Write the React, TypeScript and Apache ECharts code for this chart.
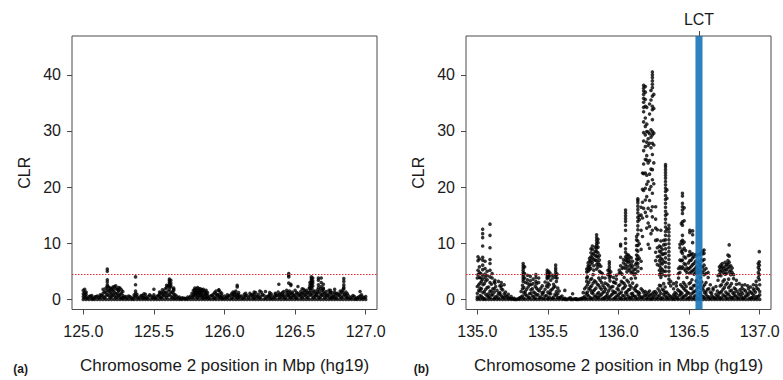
import React, { useEffect, useRef } from "react";
import * as echarts from "echarts";

type Col = [number, number[]];

// ---------- axis / label values ----------
const xTicksA = [125.0, 125.5, 126.0, 126.5, 127.0];
const xTicksB = [135.0, 135.5, 136.0, 136.5, 137.0];
const yTicks = [0, 10, 20, 30, 40];
const xRangeA = [124.92, 127.08];
const xRangeB = [134.92, 137.08];
const yRange = [-1.8, 46.9];
const threshold = 4.5;
const lctStart = 136.545;
const lctEnd = 136.595;
const lctMid = 136.57;
const xTitle = "Chromosome 2 position in Mbp (hg19)";
const yTitle = "CLR";

// ---------- panel (a): chr2 125-127 Mb, CLR columns [position, values] ----------
const aBase: Col[] = [
  [125.0, [0, 0.5, 1.0, 1.6]], [125.02, [0, 0.4, 0.9, 1.3]], [125.04, [0, 0.5]], [125.06, [0, 0.3, 0.7]],
  [125.08, [0, 0.4]], [125.1, [0, 0.6]], [125.12, [0, 0.4, 0.8]], [125.14, [0, 0.5, 1.1, 1.8]],
  [125.16, [0, 0.6, 1.2, 2.0]], [125.18, [0, 0.7, 1.5, 2.2]], [125.2, [0, 0.5, 1.0, 1.9]], [125.22, [0, 0.6, 1.3, 2.3]],
  [125.24, [0, 0.5, 1.1, 1.8]], [125.26, [0, 0.4, 0.9, 2.0]], [125.28, [0, 0.3, 0.7, 1.4]], [125.3, [0, 0.5]],
  [125.32, [0, 0.6]], [125.34, [0, 0.3]], [125.36, [0, 0.4, 0.8]], [125.38, [0, 0.5, 0.9]],
  [125.4, [0, 0.4]], [125.42, [0, 0.3, 0.7]], [125.44, [0, 0.4, 0.9]], [125.46, [0, 0.5]],
  [125.48, [0, 0.6]], [125.5, [0, 0.4, 0.8]], [125.52, [0, 0.5]], [125.54, [0, 0.5, 0.9, 1.3]],
  [125.56, [0, 0.5, 1.0, 1.7]], [125.58, [0, 0.6, 1.2, 1.9]], [125.6, [0, 0.7, 1.5, 2.4]], [125.62, [0, 0.6, 1.3, 2.2]],
  [125.64, [0, 0.5, 1.0, 1.6]], [125.66, [0, 0.6]], [125.68, [0, 0.4]], [125.7, [0, 0.3]],
  [125.72, [0, 0.2]], [125.74, [0, 0.4]], [125.76, [0, 0.6]], [125.78, [0, 0.5, 0.9, 1.6]],
  [125.8, [0, 0.5, 1.0, 1.4, 1.9]], [125.82, [0, 0.6, 1.1, 1.5, 1.9]], [125.84, [0, 0.4, 0.8, 1.3, 1.7]], [125.86, [0, 0.5, 1.0, 1.5]],
  [125.88, [0, 0.4, 0.7, 1.2]], [125.9, [0, 0.6]], [125.92, [0, 0.4, 0.9]], [125.94, [0, 0.5, 1.0, 1.5]],
  [125.96, [0, 0.4, 0.8, 1.6]], [125.98, [0, 0.3, 0.7, 1.1]], [126.0, [0, 0.6]], [126.02, [0, 0.4, 0.8]],
  [126.04, [0, 0.7]], [126.06, [0, 0.5, 0.9, 1.3]], [126.08, [0, 0.5, 1.0, 1.5]], [126.1, [0, 0.4, 0.8, 1.2]],
  [126.12, [0, 0.6]], [126.14, [0, 0.4, 0.9]], [126.16, [0, 0.7]], [126.18, [0, 0.6, 1.1]],
  [126.2, [0, 0.4, 0.8]], [126.22, [0, 0.5, 1.2]], [126.24, [0, 0.4, 0.9]], [126.26, [0, 0.6, 1.3]],
  [126.28, [0, 0.7]], [126.3, [0, 0.5]], [126.32, [0, 0.4, 0.8, 1.2]], [126.34, [0, 0.6]],
  [126.36, [0, 0.5, 0.9, 1.1]], [126.38, [0, 0.7, 1.3]], [126.4, [0, 0.5, 1.0]], [126.42, [0, 0.4, 0.8, 1.4]],
  [126.44, [0, 0.6, 1.1, 1.6]], [126.46, [0, 0.5, 0.9, 1.5]], [126.48, [0, 0.5, 1.0, 1.3]], [126.5, [0, 0.4, 0.8, 1.6]],
  [126.52, [0, 0.6, 1.1]], [126.54, [0, 0.5, 0.9, 1.4]], [126.56, [0, 0.6, 1.2, 1.8]], [126.58, [0, 0.5, 1.0, 1.6]],
  [126.6, [0, 0.7, 1.3, 2.0]], [126.62, [0, 0.6, 1.1, 1.9]], [126.64, [0, 0.5, 0.9, 1.5]], [126.66, [0, 0.6, 1.2, 1.7]],
  [126.68, [0, 0.5, 1.0, 1.9]], [126.7, [0, 0.7, 1.3, 1.8]], [126.72, [0, 0.5, 0.9, 1.4]], [126.74, [0, 0.5, 1.0, 1.6]],
  [126.76, [0, 0.3, 0.7, 1.2]], [126.78, [0, 0.4, 0.9, 1.3]], [126.8, [0, 0.6, 1.1]], [126.82, [0, 0.5, 1.0, 1.5]],
  [126.84, [0, 0.6, 1.2, 1.8]], [126.86, [0, 0.4, 0.8, 1.3]], [126.88, [0, 0.6]], [126.9, [0, 0.4]],
  [126.92, [0, 0.5]], [126.94, [0, 0.3]], [126.96, [0, 0.6]], [126.98, [0, 0.4]], [127.0, [0, 0.5]],
];

const aFill: Col[] = [
  [125.01, [0.3, 0.8]], [125.03, [0.2]], [125.05, [0.6]], [125.07, [0.1]], [125.09, [0.5]], [125.11, [0.3]],
  [125.13, [0.7]], [125.15, [0.3, 1.4]], [125.17, [0.9, 1.7]], [125.19, [0.4, 1.2]], [125.21, [0.8, 1.5]],
  [125.23, [0.3, 1.0]], [125.25, [0.7, 1.6]], [125.27, [0.2, 1.1]], [125.29, [0.4]], [125.31, [0.2]],
  [125.33, [0.5]], [125.35, [0.1]], [125.37, [0.6]], [125.39, [0.2]], [125.41, [0.7]], [125.43, [0.3]],
  [125.45, [0.2]], [125.47, [0.8]], [125.49, [0.3]], [125.51, [0.2]], [125.53, [0.7]], [125.55, [0.3, 1.2]],
  [125.57, [0.8, 1.4]], [125.59, [0.4, 1.1]], [125.61, [0.9, 1.8]], [125.63, [0.3, 1.3]], [125.65, [0.2, 0.8]],
  [125.67, [0.3]], [125.69, [0.1]], [125.71, [0.2]], [125.73, [0.1]], [125.75, [0.3]], [125.77, [0.4, 1.1]],
  [125.79, [0.8, 1.3]], [125.81, [0.3, 0.8]], [125.83, [0.6, 1.2]], [125.85, [0.2, 0.7]], [125.87, [0.3, 0.9]],
  [125.89, [0.2]], [125.91, [0.7]], [125.93, [0.2, 1.2]], [125.95, [0.8]], [125.97, [0.5, 1.3]], [125.99, [0.2]],
  [126.01, [0.3]], [126.03, [0.6]], [126.05, [0.2, 1.0]], [126.07, [0.7, 1.2]], [126.09, [0.3, 0.8]],
  [126.11, [0.5]], [126.13, [0.2]], [126.15, [0.6, 1.1]], [126.17, [0.3]], [126.19, [0.8]], [126.21, [0.2, 0.9]],
  [126.23, [0.6]], [126.25, [0.3]], [126.27, [0.9]], [126.29, [0.2]], [126.31, [0.6]], [126.33, [0.2, 1.0]],
  [126.35, [0.3]], [126.37, [0.7]], [126.39, [0.3, 0.9]], [126.41, [0.7, 1.2]], [126.43, [0.2]],
  [126.45, [0.7, 1.3]], [126.47, [0.3, 1.1]], [126.49, [0.7]], [126.51, [0.2, 1.2]], [126.53, [0.8]],
  [126.55, [0.3, 1.1]], [126.57, [0.8, 1.5]], [126.59, [0.3, 1.2]], [126.61, [0.9, 1.6]], [126.63, [0.3, 1.4]],
  [126.65, [0.7, 1.1]], [126.67, [0.3, 1.4]], [126.69, [0.8, 1.6]], [126.71, [0.3, 1.1]], [126.73, [0.7]],
  [126.75, [0.2, 1.2]], [126.77, [0.5]], [126.79, [0.2, 1.0]], [126.81, [0.8]], [126.83, [0.3, 1.4]],
  [126.85, [0.9]], [126.87, [0.3, 1.0]], [126.89, [0.2]], [126.91, [0.7]], [126.93, [0.1]], [126.95, [0.4]],
  [126.97, [0.2, 0.8]], [126.99, [0.3]],
];

const aPeaks: Col[] = [
  [125.01, [1.8, 1.2]], [125.17, [5.4, 5.0, 3.5, 3.1, 2.6, 2.3]], [125.19, [2.0, 1.6]], [125.21, [2.2, 1.8]],
  [125.23, [1.9, 2.4]], [125.25, [2.1, 1.5]], [125.27, [1.7]], [125.37, [4.0, 2.6, 1.5, 1.1]],
  [125.43, [1.0]], [125.5, [1.8]], [125.59, [2.1, 2.5]], [125.61, [3.6, 3.3, 3.0, 2.7, 2.3]],
  [125.62, [3.4, 2.9, 2.5]], [125.64, [2.0, 1.8]], [125.79, [2.0, 1.7, 1.3]], [125.81, [2.1, 1.6, 1.2]],
  [125.83, [1.9, 1.5, 1.1]], [125.85, [1.8, 1.4]], [125.87, [1.6, 1.1]], [125.96, [1.7]],
  [126.09, [2.5, 2.2]], [126.21, [1.3]], [126.25, [1.5]], [126.29, [1.4]], [126.385, [2.7]],
  [126.455, [4.6, 4.3, 4.0, 2.9]], [126.47, [2.7, 2.5]], [126.52, [2.3]], [126.55, [1.9]],
  [126.605, [3.0, 2.5, 2.0]], [126.615, [4.0, 3.7, 3.4, 3.1, 2.8, 2.5, 2.2]], [126.625, [3.8, 3.3, 2.9, 2.4]],
  [126.665, [3.8, 3.4, 2.6, 2.1]], [126.685, [3.8, 3.0, 2.3]], [126.7, [2.7, 2.0]], [126.75, [1.6]],
  [126.78, [1.8]], [126.845, [3.7, 3.2, 2.6, 2.2, 1.9]], [126.96, [1.4]],
];

// ---------- panel (b): chr2 135-137 Mb ----------
const bBase: Col[] = [
  [135.0, [0, 0.4, 1.1, 2.3, 3.8]], [135.02, [0, 0.7, 1.5, 2.0, 2.9]], [135.04, [0, 0.3, 1.2, 2.6]], [135.06, [0, 0.9, 1.8, 3.3]],
  [135.08, [0, 0.5, 1.0, 2.2]], [135.1, [0, 0.8, 1.4, 2.7]], [135.12, [0, 0.2, 1.3, 1.9, 3.1]], [135.14, [0, 0.6, 1.6]],
  [135.16, [0, 0.9, 1.2, 2.4]], [135.18, [0, 0.4, 1.7]], [135.2, [0, 0.7, 1.3]], [135.22, [0, 0.3, 0.9]],
  [135.24, [0, 0.5]], [135.26, [0, 0.2]], [135.28, [0]], [135.3, [0, 0.3]],
  [135.32, [0, 0.6, 1.9, 2.5]], [135.34, [0, 0.9, 1.4, 3.0]], [135.36, [0, 0.4, 2.2]], [135.38, [0, 1.1, 1.7, 2.6]],
  [135.4, [0, 0.5, 1.3]], [135.42, [0, 0.8, 2.0, 2.8]], [135.44, [0, 0.3, 1.5]], [135.46, [0, 0.9, 1.2, 2.4]],
  [135.48, [0, 0.6, 1.8, 3.1]], [135.5, [0, 0.2, 1.3, 2.2, 2.9]], [135.52, [0, 1.0, 1.6, 3.4]], [135.54, [0, 0.4, 2.1, 2.7]],
  [135.56, [0, 0.7, 1.4, 3.2]], [135.58, [0, 0.3, 1.5]], [135.6, [0, 0.6]], [135.62, [0, 0.2]],
  [135.64, [0]], [135.66, [0, 0.3]], [135.68, [0]], [135.7, [0, 0.1]],
  [135.72, [0]], [135.74, [0, 0.2]], [135.76, [0, 0.5, 1.9]], [135.78, [0, 0.8, 1.3, 2.6, 4.0]],
  [135.8, [0, 0.3, 1.7, 2.2, 3.5]], [135.82, [0, 1.0, 1.5, 2.9, 4.4]], [135.84, [0, 0.6, 2.0, 3.1]], [135.86, [0, 0.4, 1.2, 2.5, 3.8]],
  [135.88, [0, 0.9, 1.8, 3.0]], [135.9, [0, 0.3, 1.4, 2.1]], [135.92, [0, 0.7, 1.1, 2.7]], [135.94, [0, 0.5, 1.9, 3.3]],
  [135.96, [0, 1.0, 1.5, 2.3]], [135.98, [0, 0.4, 1.2, 2.9]], [136.0, [0, 0.8, 1.7, 2.4]], [136.02, [0, 0.2, 1.3, 3.2]],
  [136.04, [0, 0.6, 2.1, 2.8, 3.9]], [136.06, [0, 0.9, 1.4, 3.4]], [136.08, [0, 0.3, 1.8, 2.5]], [136.1, [0, 0.7, 1.1, 2.9]],
  [136.12, [0, 0.5, 1.6, 2.2]], [136.14, [0, 0.9, 1.3]], [136.16, [0, 0.4, 1.9]], [136.18, [0, 0.6, 1.2]],
  [136.2, [0, 0.2, 0.9]], [136.22, [0, 0.7, 1.5]], [136.24, [0, 0.3, 1.0]], [136.26, [0, 0.8, 1.4]],
  [136.28, [0, 0.5, 1.9]], [136.3, [0, 0.2, 1.1, 2.4]], [136.32, [0, 0.9, 1.6, 2.8]], [136.34, [0, 0.4, 1.3]],
  [136.36, [0, 0.7]], [136.38, [0, 0.3]], [136.4, [0, 0.6, 1.2]], [136.42, [0, 0.2, 1.7]],
  [136.44, [0, 0.9, 1.3, 2.6]], [136.46, [0, 0.5, 2.0, 3.0]], [136.48, [0, 0.8, 1.5, 2.3]], [136.5, [0, 0.3, 1.1, 2.8]],
  [136.52, [0, 1.0, 1.9, 3.5]], [136.54, [0, 0.6, 1.4, 2.5]], [136.56, [0, 0.3, 2.1, 3.1]], [136.58, [0, 0.8, 1.2, 2.7, 3.9]],
  [136.6, [0, 0.5, 1.7, 2.3]], [136.62, [0, 0.9, 1.4, 3.0]], [136.64, [0, 0.4, 1.9]], [136.66, [0, 0.7, 1.1]],
  [136.68, [0, 0.3]], [136.7, [0, 0.6, 1.5]], [136.72, [0, 0.2, 1.2, 2.4]], [136.74, [0, 0.8, 1.8, 3.2]],
  [136.76, [0, 0.5, 1.3, 2.6]], [136.78, [0, 0.9, 2.1, 3.6]], [136.8, [0, 0.3, 1.6, 2.8]], [136.82, [0, 0.7, 1.2, 2.0]],
  [136.84, [0, 0.4, 1.4]], [136.86, [0, 0.8, 1.7]], [136.88, [0, 0.2, 1.0]], [136.9, [0, 0.6, 1.5]],
  [136.92, [0, 0.9, 1.9]], [136.94, [0, 0.3, 1.2]], [136.96, [0, 0.7, 1.6]], [136.98, [0, 0.5, 2.0]],
  [137.0, [0, 0.8, 1.4, 2.6]],
];

const bFill: Col[] = [
  [135.01, [0.2, 1.6, 2.6]], [135.03, [0.5, 1.9, 3.2]], [135.05, [0.1, 1.4, 2.8]], [135.07, [0.6, 2.1]],
  [135.09, [0.3, 1.5, 3.0]], [135.11, [0.8, 1.9]], [135.13, [0.4, 2.3]], [135.15, [0.2, 1.1]], [135.17, [0.6, 1.9]],
  [135.19, [0.3, 1.0]], [135.21, [0.5]], [135.23, [0.2]], [135.25, [0.1]], [135.27, [0]], [135.29, [0.1]],
  [135.31, [0.4, 1.4]], [135.33, [0.2, 1.2, 2.1]], [135.35, [0.7, 1.8]], [135.37, [0.3, 1.0, 2.6]],
  [135.39, [0.6, 1.9]], [135.41, [0.2, 1.1, 2.3]], [135.43, [0.8, 1.7]], [135.45, [0.4, 2.0]], [135.47, [0.2, 1.3]],
  [135.49, [0.7, 2.4]], [135.51, [0.4, 1.1, 2.6]], [135.53, [0.2, 1.8]], [135.55, [0.9, 2.3]], [135.57, [0.3, 1.0, 2.0]],
  [135.59, [0.4]], [135.61, [0.1]], [135.63, [0]], [135.65, [0.2]], [135.67, [0]], [135.69, [0.1]], [135.71, [0]],
  [135.73, [0.1]], [135.75, [0.3, 1.2]], [135.77, [0.2, 1.1, 2.2]], [135.79, [0.6, 1.9, 3.0]],
  [135.81, [0.2, 1.2, 2.4, 3.7]], [135.83, [0.5, 1.7, 3.3]], [135.85, [0.3, 1.0, 2.7]], [135.87, [0.7, 2.1, 3.4]],
  [135.89, [0.2, 1.2, 2.5]], [135.91, [0.5, 1.8]], [135.93, [0.3, 1.5, 2.4]], [135.95, [0.8, 2.2]],
  [135.97, [0.2, 1.3, 3.0]], [135.99, [0.6, 1.9]], [136.01, [0.3, 1.1, 2.6]], [136.03, [0.7, 1.9, 3.0]],
  [136.05, [0.2, 1.2, 2.4]], [136.07, [0.5, 1.7, 3.1]], [136.09, [0.3, 1.0, 2.2, 3.7]], [136.11, [0.6, 1.9]],
  [136.13, [0.2, 1.4, 2.5]], [136.15, [0.5, 1.1]], [136.17, [0.3, 1.6]], [136.19, [0.7, 1.4]], [136.21, [0.4, 1.2]],
  [136.23, [0.1, 0.8]], [136.25, [0.5, 1.3]], [136.27, [0.2, 1.1]], [136.29, [0.7, 1.5, 2.5]], [136.31, [0.3, 1.8]],
  [136.33, [0.6, 1.2, 2.2]], [136.35, [0.2, 1.0]], [136.37, [0.5]], [136.39, [0.1, 0.8]], [136.41, [0.4, 1.0]],
  [136.43, [0.7, 1.5]], [136.45, [0.3, 1.1, 2.3]], [136.47, [0.6, 1.7, 2.7]], [136.49, [0.2, 1.2]],
  [136.51, [0.5, 2.0, 3.0]], [136.53, [0.3, 1.3, 2.4]], [136.55, [0.7, 1.6, 3.3]], [136.57, [0.2, 1.1, 2.2]],
  [136.59, [0.6, 1.9, 3.1]], [136.61, [0.3, 1.2, 2.6]], [136.63, [0.5, 1.8]], [136.65, [0.2, 1.3]], [136.67, [0.4]],
  [136.69, [0.2, 0.9]], [136.71, [0.5, 1.1]], [136.73, [0.3, 1.4, 2.6]], [136.75, [0.6, 2.1, 3.5]],
  [136.77, [0.2, 1.0, 2.9]], [136.79, [0.5, 1.5, 2.4]], [136.81, [0.3, 1.1]], [136.83, [0.6, 1.8]],
  [136.85, [0.2, 1.0]], [136.87, [0.5, 1.3]], [136.89, [0.3, 1.7]], [136.91, [0.6, 1.1]], [136.93, [0.2, 1.4]],
  [136.95, [0.4, 1.0]], [136.97, [0.2, 1.3]], [136.99, [0.5, 1.8]],
];

const bPeaks: Col[] = [
  [135.005, [7.6, 6.9, 5.2, 4.4]], [135.015, [7.2, 5.8, 4.8, 3.9]], [135.025, [4.6, 3.8]],
  [135.038, [12.5, 11.7, 11.0, 9.5, 7.5, 7.0, 6.1, 5.3, 4.3, 3.6]], [135.055, [6.8, 5.5, 4.5, 3.9]], [135.07, [5.0, 4.2, 3.5]],
  [135.09, [13.4, 11.4, 9.2, 7.1, 6.4, 5.2, 4.0]], [135.105, [4.6, 3.8]], [135.125, [3.4, 2.9]], [135.15, [3.2]],
  [135.17, [3.0, 2.4]], [135.19, [2.6]],
  [135.325, [6.4, 6.0, 5.6, 5.2, 4.8, 4.4, 4.0, 3.6, 3.2]], [135.335, [5.8, 4.6, 3.8]], [135.355, [4.3, 3.5, 2.9]],
  [135.375, [4.1, 3.3]], [135.395, [3.6, 2.8]], [135.415, [4.4, 3.9, 3.2]], [135.435, [3.8, 3.0]],
  [135.495, [5.2, 4.8, 4.4, 4.0, 3.7]], [135.505, [5.0, 4.5, 3.9]], [135.515, [4.7, 4.2]], [135.535, [4.3, 3.8]],
  [135.555, [6.1, 5.6, 5.2, 4.8, 4.3, 3.9]], [135.565, [4.5, 3.8]], [135.62, [1.6]], [135.675, [1.0]],
  [135.775, [5.4, 4.9, 3.8, 3.2]], [135.785, [6.5, 6.0, 5.6, 5.0]], [135.795, [7.3, 6.8, 5.9, 5.3]],
  [135.805, [9.0, 8.3, 7.6, 6.9, 6.3, 5.5]], [135.815, [9.5, 8.9, 8.0, 7.4, 6.6]], [135.825, [8.2, 7.1, 6.0, 5.2]],
  [135.835, [9.3, 8.6, 7.8, 7.0]], [135.845, [11.5, 11.0, 10.5, 10.0, 9.6, 9.1, 8.5, 7.7, 6.9, 6.2, 5.4]],
  [135.855, [10.7, 10.1, 9.3, 8.3, 7.5, 6.5, 5.8]], [135.865, [7.8, 7.0, 6.2, 5.0]], [135.875, [5.9, 4.8]],
  [135.885, [4.6, 3.9]], [135.905, [3.8, 2.9]], [135.925, [5.2, 4.4]], [135.935, [6.7, 6.3, 5.8, 5.3, 4.8, 4.3, 3.8]],
  [135.945, [4.9, 4.1]], [135.965, [3.9, 3.1]], [135.985, [4.3, 3.6]],
  [136.005, [5.2, 4.6]], [136.015, [9.8, 9.5, 7.5, 6.0, 4.8]], [136.025, [5.5, 4.5]], [136.035, [7.1, 6.5, 5.7]],
  [136.05, [15.9, 15.4, 14.9, 14.4, 13.9, 13.2, 12.3, 10.8, 10.0, 9.0, 8.4, 7.6, 7.0, 6.2, 5.5]],
  [136.06, [8.0, 7.4, 6.8, 5.9, 4.9]], [136.07, [7.9, 7.2, 6.6, 5.4]], [136.08, [7.6, 6.8, 6.0, 5.1]],
  [136.09, [7.4, 6.3, 5.6, 4.7]], [136.1, [6.8, 5.9, 4.9]], [136.11, [5.3, 4.4]], [136.12, [6.2, 5.4, 4.6, 3.8]],
  [136.128, [11.2, 10.6, 9.6, 8.8, 7.9, 7.2, 6.5]],
  [136.137, [17.9, 17.6, 17.2, 16.6, 16.0, 15.4, 14.6, 13.9, 13.1, 12.4, 11.6, 10.4, 9.6, 8.6, 7.7, 7.1, 6.4, 5.8, 5.0]],
  [136.147, [14.9, 14.2, 9.9, 7.3]], [136.16, [16.4, 15.0, 12.3, 8.9, 6.8, 5.5]], [136.17, [22.5, 19.6, 17.3, 14.5, 11.2]],
  [136.178, [38.1, 37.6, 37.1, 36.5, 35.8, 35.1, 34.2, 33.4, 31.6, 29.7, 28.2, 26.5, 24.1, 22.4, 19.4, 16.2]],
  [136.19, [37.9, 36.9, 35.6, 34.4, 32.3, 30.8, 29.3, 27.2, 24.9, 22.5, 19.8, 17.7, 15.5]],
  [136.2, [34.2, 31.2, 29.9, 28.0, 25.6, 24.8, 22.1, 20.5, 18.3, 14.8, 12.7]],
  [136.21, [29.8, 28.6, 27.4, 24.3, 21.0, 16.2, 13.6, 9.8]],
  [136.22, [34.8, 33.0, 29.5, 27.8, 24.7, 22.3, 19.6, 17.6, 13.0, 9.1]],
  [136.23, [37.2, 35.5, 30.2, 28.9, 27.0, 23.2, 20.1, 15.8, 11.7]],
  [136.24, [40.5, 40.0, 39.5, 38.9, 38.3, 37.7, 36.2, 34.4, 33.8, 32.0, 29.9, 29.3, 27.8, 25.8, 23.1, 21.3, 18.9, 16.5, 14.7, 12.3]],
  [136.25, [36.5, 34.0, 29.6, 27.5, 24.3, 20.6]], [136.263, [16.5, 14.3, 12.7, 10.5, 8.4, 6.9]],
  [136.275, [12.4, 10.6, 9.2, 7.6, 6.2]], [136.29, [9.5, 8.6, 7.7, 6.9, 6.0, 5.2, 4.4]],
  [136.3, [12.3, 10.4, 9.3, 8.4, 7.3, 6.5, 5.6, 4.8, 3.9]], [136.31, [8.9, 8.0, 7.1, 6.3, 5.3, 4.4]],
  [136.32, [10.5, 9.7, 8.1, 6.7, 5.0]],
  [136.333, [24.0, 23.6, 23.1, 22.6, 22.1, 21.6, 21.0, 20.4, 19.8, 19.2, 18.5, 17.8, 17.1, 16.4, 15.7, 15.0, 14.3, 13.6, 12.9, 12.1, 11.4, 10.6, 9.8, 9.0, 8.2, 7.4, 6.6, 5.8, 5.0, 4.2]],
  [136.343, [19.5, 18.0, 15.2, 12.5]],
  [136.357, [13.2, 12.6, 12.0, 11.3, 10.6, 9.9, 9.2, 8.5, 7.8, 7.1, 6.4, 5.7, 5.0, 4.3, 3.6, 2.9]],
  [136.37, [3.2, 2.4]], [136.39, [2.8, 1.9]], [136.41, [2.4, 3.0]], [136.425, [5.5, 4.6, 3.8]],
  [136.435, [9.8, 9.2, 7.0, 5.8, 4.8]], [136.445, [13.5, 10.3, 8.5, 6.9, 5.5]],
  [136.453, [18.9, 18.4, 17.1, 16.5, 15.9, 15.3, 13.8, 13.2, 11.4, 10.5, 9.9, 8.8, 8.2, 7.0, 5.8]],
  [136.465, [16.3, 14.0, 10.2, 9.1, 7.6, 6.4, 5.4]], [136.475, [8.7, 7.4, 6.2, 5.1]], [136.485, [5.6, 4.8, 3.9]],
  [136.495, [7.8, 6.5, 5.4]], [136.505, [12.3, 11.9, 8.5, 7.9, 6.9, 5.6, 4.7]], [136.515, [8.0, 7.0, 5.9, 4.9]],
  [136.525, [12.2, 11.5, 10.1, 8.1, 7.4, 6.2, 5.1]], [136.535, [7.6, 6.4, 5.3, 4.5]], [136.545, [8.0, 6.8, 5.6, 4.7]],
  [136.555, [7.9, 5.9, 5.0]], [136.565, [6.6, 5.4, 4.6]], [136.575, [8.0, 6.2, 5.1]], [136.585, [8.3, 7.0, 5.8, 4.9]],
  [136.595, [8.6, 8.1, 6.9, 5.7, 4.8]], [136.606, [8.8, 8.2, 7.1, 6.1, 5.2, 4.4]], [136.62, [5.5, 4.6]],
  [136.635, [4.8, 3.9]], [136.65, [2.6]], [136.67, [2.0, 1.7]], [136.69, [2.3]], [136.705, [4.2, 3.4]],
  [136.715, [5.8, 5.2, 4.5]], [136.725, [6.1, 5.6, 4.9, 4.2]], [136.735, [6.4, 5.8, 5.1]], [136.745, [5.5, 4.7]],
  [136.755, [6.6, 5.9, 5.2, 4.5]], [136.765, [6.2, 5.3, 4.6]], [136.775, [7.9, 6.9, 6.3, 5.6]],
  [136.784, [9.7, 7.7, 6.6, 5.8, 4.9]], [136.795, [6.0, 5.2, 4.4]], [136.805, [5.6, 4.8]], [136.815, [4.4, 3.7]],
  [136.835, [3.4, 2.7]], [136.855, [2.8]], [136.875, [2.5, 2.0]], [136.895, [2.6]], [136.915, [2.4]],
  [136.935, [2.2]], [136.955, [2.6, 1.9]], [136.975, [3.2, 2.5]], [136.99, [6.4, 5.7, 4.8, 3.9]],
  [136.997, [8.5, 6.7, 6.1, 5.3, 4.4, 3.5]],
];

// LCT gene span [start, end] in Mbp
const lctSpan = [[lctStart, lctEnd]];

const toPoints = (cols: Col[]) => cols.flatMap(([x, ys]) => ys.map((y) => [x, y]));

const FONT = '"Liberation Sans", Arial, Helvetica, sans-serif';
const AXIS_GRAY = "#4a4a4a";
const TEXT = "#1a1a1a";
const DOT = "#000000";
const RED = "#e3262f";
const BLUE = "#1874b6";

function xAxisFor(gridIndex: number, range: number[], ticks: number[]) {
  return {
    gridIndex,
    type: "value",
    position: "bottom",
    min: range[0],
    max: range[1],
    axisLine: { show: false, onZero: false },
    splitLine: { show: false },
    axisTick: { show: true, length: 5, lineStyle: { color: AXIS_GRAY, width: 1 }, customValues: ticks },
    axisLabel: {
      show: true,
      customValues: ticks,
      formatter: (v: number) => v.toFixed(1),
      fontSize: 16,
      color: TEXT,
      fontFamily: FONT,
      margin: 14,
    },
    name: xTitle,
    nameLocation: "middle",
    nameGap: 47,
    nameTextStyle: { fontSize: 17, color: TEXT, fontFamily: FONT },
  };
}

function yAxisFor(gridIndex: number) {
  return {
    gridIndex,
    type: "value",
    min: yRange[0],
    max: yRange[1],
    axisLine: { show: false, onZero: false },
    splitLine: { show: false },
    axisTick: { show: true, length: 5, lineStyle: { color: AXIS_GRAY, width: 1 }, customValues: yTicks },
    axisLabel: {
      show: true,
      customValues: yTicks,
      formatter: (v: number) => String(v),
      fontSize: 16,
      color: TEXT,
      fontFamily: FONT,
      margin: 11,
    },
    name: yTitle,
    nameLocation: "middle",
    nameRotate: 90,
    nameGap: 40,
    nameTextStyle: { fontSize: 16, color: TEXT, fontFamily: FONT },
  };
}

const thresholdLine = {
  silent: true,
  symbol: ["none", "none"],
  label: { show: false },
  lineStyle: { color: RED, type: [1.5, 1.5], width: 1, opacity: 1 },
  emphasis: { disabled: true },
  data: [{ yAxis: threshold }],
};

const gridStyle = { show: true, borderColor: AXIS_GRAY, borderWidth: 1, backgroundColor: "transparent" };

const option = {
  animation: false,
  backgroundColor: "#ffffff",
  grid: [
    { ...gridStyle, left: 72, top: 36, width: 305, height: 273.5 },
    { ...gridStyle, left: 466, top: 36, width: 305, height: 273.5 },
  ],
  xAxis: [
    xAxisFor(0, xRangeA, xTicksA),
    xAxisFor(1, xRangeB, xTicksB),
    {
      gridIndex: 1,
      type: "value",
      position: "top",
      min: xRangeB[0],
      max: xRangeB[1],
      axisLine: { show: false, onZero: false },
      splitLine: { show: false },
      axisTick: { show: true, length: 5, lineStyle: { color: AXIS_GRAY, width: 1 }, customValues: [lctMid] },
      axisLabel: {
        show: true,
        customValues: [lctMid],
        formatter: () => "LCT",
        fontSize: 16,
        color: TEXT,
        fontFamily: FONT,
        margin: 9,
      },
    },
  ],
  yAxis: [yAxisFor(0), yAxisFor(1)],
  graphic: [
    {
      type: "text",
      x: 28,
      y: 369,
      style: { text: "(a)", fontSize: 12, fontWeight: "bold", fontFamily: FONT, fill: TEXT, align: "right", verticalAlign: "middle" },
    },
    {
      type: "text",
      x: 429,
      y: 369,
      style: { text: "(b)", fontSize: 12, fontWeight: "bold", fontFamily: FONT, fill: TEXT, align: "right", verticalAlign: "middle" },
    },
  ],
  series: [
    {
      type: "scatter",
      xAxisIndex: 0,
      yAxisIndex: 0,
      data: toPoints([...aBase, ...aFill, ...aPeaks]),
      symbolSize: 3.6,
      itemStyle: { color: DOT },
      silent: true,
      z: 3,
      markLine: thresholdLine,
    },
    {
      type: "scatter",
      xAxisIndex: 1,
      yAxisIndex: 1,
      data: toPoints([...bBase, ...bFill, ...bPeaks]),
      symbolSize: 3.6,
      itemStyle: { color: DOT },
      silent: true,
      z: 3,
      markLine: thresholdLine,
    },
    {
      type: "custom",
      xAxisIndex: 1,
      yAxisIndex: 1,
      silent: true,
      z: 8,
      data: lctSpan,
      renderItem: (_params: any, api: any) => {
        const topLeft = api.coord([api.value(0), yRange[1]]);
        const bottomRight = api.coord([api.value(1), yRange[0]]);
        return {
          type: "rect",
          shape: {
            x: topLeft[0],
            y: topLeft[1],
            width: bottomRight[0] - topLeft[0],
            height: bottomRight[1] - topLeft[1],
          },
          style: { fill: BLUE, opacity: 0.9 },
        };
      },
    },
  ],
};

export default function App() {
  const ref = useRef<HTMLDivElement>(null);
  useEffect(() => {
    if (!ref.current) return;
    const chart = echarts.init(ref.current, null, { renderer: "svg" });
    chart.setOption(option as any);
    return () => chart.dispose();
  }, []);
  return (
    <div
      ref={ref}
      style={{ position: "fixed", left: 0, top: 0, width: 783, height: 380, background: "#ffffff" }}
    />
  );
}
